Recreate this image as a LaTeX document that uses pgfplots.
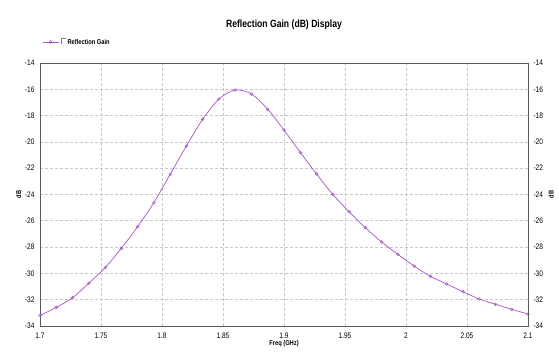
\documentclass[border=0pt]{standalone}
\usepackage{fontspec}
\setmainfont{Liberation Sans}[FakeStretch=0.82]
\usepackage{pgfplots}
\pgfplotsset{compat=1.18}
\definecolor{curve}{RGB}{165,85,200}
\definecolor{gridc}{RGB}{200,200,200}
\definecolor{framec}{RGB}{90,90,90}
\begin{document}
\begin{tikzpicture}
\useasboundingbox (-40pt,-32pt) rectangle (519pt,326pt);
\begin{axis}[
  at={(0pt,0pt)}, anchor=south west,
  scale only axis, width=488pt, height=263pt,
  xmin=1.7, xmax=2.1, ymin=-34, ymax=-14,
  xtick={1.7,1.75,...,2.1},
  xticklabels={1.7,1.75,1.8,1.85,1.9,1.95,2,2.05,2.1},
  ytick={-34,-32,...,-14},
  grid=major,
  major grid style={gridc, densely dashed, line width=0.6pt},
  major tick length=0pt,
  axis line style={framec, line width=0.8pt},
  tick label style={font=\fontsize{8}{9}\selectfont},
  /pgf/number format/assume math mode=true,
  xticklabel style={yshift=-3pt},
  yticklabel style={xshift=-2pt},
  xlabel={\textbf{Freq (GHz)}},
  xlabel style={font=\fontsize{7}{8}\selectfont, yshift=5pt},
  ylabel={\textbf{dB}},
  ylabel style={font=\fontsize{7}{8}\selectfont, yshift=-3pt},
  title={\textbf{Reflection Gain (dB) Display}},
  title style={font=\fontsize{10.5}{12}\selectfont, yshift=24pt},
  legend style={at={(0.004,1.08)}, anchor=west, draw=none, fill=none,
    font=\fontsize{7}{8}\selectfont\bfseries, inner sep=0pt},
  legend cell align=left,
  legend image code/.code={
    \draw[#1] (0pt,0pt) -- (16pt,0pt);
    \draw[#1, only marks] plot coordinates {(8pt,0pt)};
  },
]
\addplot[curve, line width=0.7pt, smooth, mark=o, mark size=1.4pt, mark options={solid, line width=0.5pt}] coordinates {
(1.700000,-33.20) (1.713333,-32.58) (1.726667,-31.85) (1.740000,-30.75)
(1.753333,-29.57) (1.766667,-28.09) (1.780000,-26.45) (1.793333,-24.62)
(1.806667,-22.47) (1.820000,-20.31) (1.833333,-18.28) (1.846667,-16.74)
(1.860000,-16.05) (1.873333,-16.36) (1.886667,-17.52) (1.900000,-19.10)
(1.913333,-20.79) (1.926667,-22.44) (1.940000,-23.99) (1.953333,-25.31)
(1.966667,-26.52) (1.980000,-27.61) (1.993333,-28.55) (2.006667,-29.44)
(2.020000,-30.22) (2.033333,-30.81) (2.046667,-31.39) (2.060000,-31.95)
(2.073333,-32.35) (2.086667,-32.73) (2.100000,-33.09)
};
\addlegendentry{\tikz\draw[gray, line width=0.5pt] (0,0)--(0,5.5pt)--(5pt,5.5pt);\,Reflection Gain}
\end{axis}
\begin{axis}[
  at={(0pt,0pt)}, anchor=south west,
  scale only axis, width=488pt, height=263pt,
  xmin=1.7, xmax=2.1, ymin=-34, ymax=-14,
  axis x line=none,
  axis y line*=right,
  ytick={-34,-32,...,-14},
  major tick length=0pt,
  axis line style={framec, line width=0.8pt},
  tick label style={font=\fontsize{8}{9}\selectfont},
  /pgf/number format/assume math mode=true,
  yticklabel style={xshift=2pt},
]
\end{axis}
\node[rotate=90, font=\fontsize{7}{8}\selectfont] at (511pt,131.5pt) {\textbf{dB}};
\end{tikzpicture}
\end{document}
